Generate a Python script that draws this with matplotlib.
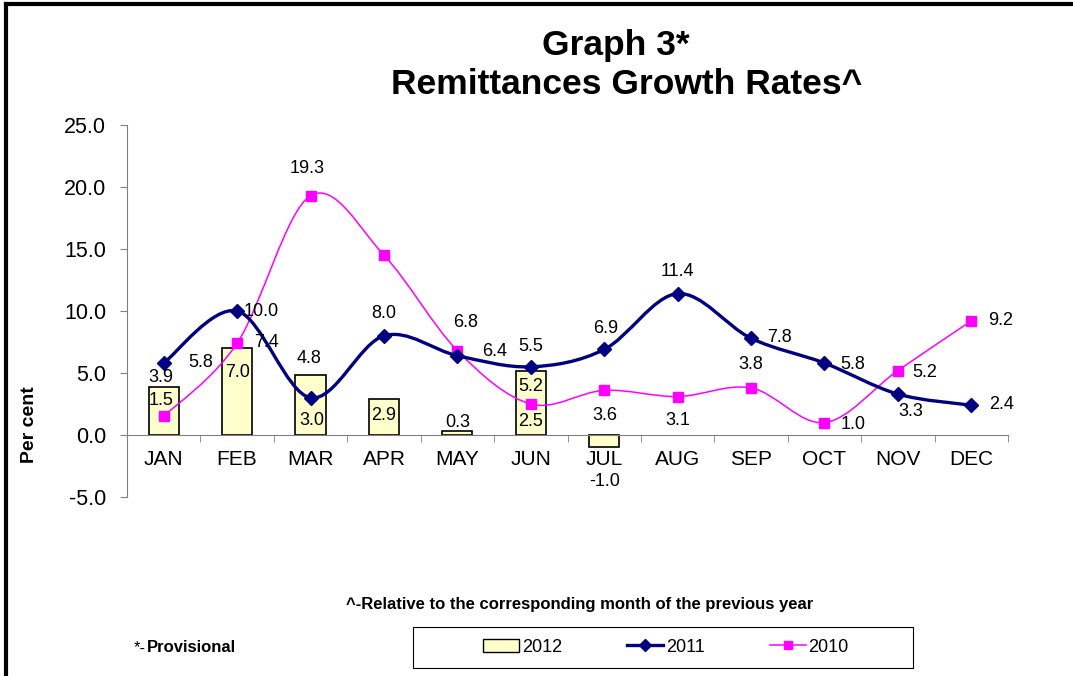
import numpy as np
import matplotlib
matplotlib.use('Agg')
import matplotlib.pyplot as plt
from matplotlib.path import Path
from matplotlib.patches import PathPatch, Rectangle
from matplotlib.lines import Line2D

plt.rcParams['font.family'] = ['Liberation Sans', 'DejaVu Sans']

months = ['JAN', 'FEB', 'MAR', 'APR', 'MAY', 'JUN', 'JUL', 'AUG', 'SEP', 'OCT', 'NOV', 'DEC']
v2012 = [3.9, 7.0, 4.8, 2.9, 0.3, 5.2, -1.0]
v2011 = [5.8, 10.0, 3.0, 8.0, 6.4, 5.5, 6.9, 11.4, 7.8, 5.8, 3.3, 2.4]
v2010 = [1.5, 7.4, 19.3, 14.5, 6.8, 2.5, 3.6, 3.1, 3.8, 1.0, 5.2, 9.2]
# which 2010 points carry a label (APR has none in the original)
show2010 = [True, True, True, False, True, True, True, True, True, True, True, True]

# label offsets in pixels (dx, dy) relative to the point
off2012 = [(-3, 9), (0, -24), (-1, 17), (0, -16), (0, 9), (0, -16), (0, -34)]
off2011 = [(37, 1), (24, 0), (1, -23), (0, 22), (37, 4), (0, 20), (1, 21), (0, 22), (28, 1), (28, -1), (13, -17), (30, 1)]
off2010 = [(-3, 16), (29, 1), (-3, 27), (0, 0), (8, 28), (0, -17), (1, -25), (0, -24), (0, 23), (29, -2), (27, -2), (29, 0)]

NAVY = '#000080'
MAG = '#FF00FF'


def smooth_path(x, y):
    # Excel-like smoothed line: cubic Bezier through the points
    pts = np.column_stack([x, y]).astype(float)
    n = len(pts)
    verts = [pts[0]]
    codes = [Path.MOVETO]
    for i in range(n - 1):
        p0 = pts[i - 1] if i > 0 else pts[i]
        p1 = pts[i]
        p2 = pts[i + 1]
        p3 = pts[i + 2] if i + 2 < n else pts[i + 1]
        c1 = p1 + (p2 - p0) / 6.0
        c2 = p2 - (p3 - p1) / 6.0
        verts += [c1, c2, p2]
        codes += [Path.CURVE4] * 3
    return Path(verts, codes)


fig = plt.figure(figsize=(10.73, 6.76), dpi=100)
ax = fig.add_axes([127 / 1073, 1 - 497 / 676, 881 / 1073, 372 / 676])

x = np.arange(len(months))

ax.bar(x[:len(v2012)], v2012, width=0.41, color='#FFFFCC', edgecolor='black', linewidth=1.2, zorder=2, label='2012')

ax.add_patch(PathPatch(smooth_path(x, v2011), facecolor='none', edgecolor=NAVY, lw=2.4, zorder=4))
ax.plot(x, v2011, ls='none', marker='D', ms=7, color=NAVY, zorder=5)
ax.add_patch(PathPatch(smooth_path(x, v2010), facecolor='none', edgecolor=MAG, lw=1.1, zorder=3))
ax.plot(x, v2010, ls='none', marker='s', ms=7, color=MAG, zorder=3.5)

fs = 13
for i, v in enumerate(v2012):
    ax.annotate(f'{v:.1f}', (x[i], v), xytext=off2012[i], textcoords='offset pixels',
                ha='center', va='center', fontsize=fs, zorder=6)
for i, v in enumerate(v2011):
    ax.annotate(f'{v:.1f}', (x[i], v), xytext=off2011[i], textcoords='offset pixels',
                ha='center', va='center', fontsize=fs, zorder=6)
for i, v in enumerate(v2010):
    if show2010[i]:
        ax.annotate(f'{v:.1f}', (x[i], v), xytext=off2010[i], textcoords='offset pixels',
                    ha='center', va='center', fontsize=fs, zorder=6)

ax.set_xlim(-0.5, len(months) - 0.5)
ax.set_ylim(-5, 25)
ax.set_yticks(np.arange(-5, 26, 5))
ax.set_yticklabels([f'{t:.1f}' for t in np.arange(-5, 26, 5)])

ax.set_xticks(x)
ax.set_xticklabels(months)
ax.set_xticks(np.arange(-0.5, len(months), 1), minor=True)
ax.tick_params(axis='x', which='major', length=0, pad=11, labelsize=15)
ax.tick_params(axis='x', which='minor', length=5, color='#808080', direction='out')
ax.tick_params(axis='y', length=5, color='#808080', pad=10, labelsize=15.5)

for s in ['top', 'right']:
    ax.spines[s].set_visible(False)
ax.spines['bottom'].set_position(('data', 0))
ax.spines['bottom'].set_color('#808080')
ax.spines['left'].set_color('#808080')

fig.text(30 / 1073, 1 - 425 / 676, 'Per cent', rotation=90, ha='center', va='center',
         fontsize=14, fontweight='bold')

fig.text(616 / 1073, 1 - 45 / 676, 'Graph 3*', ha='center', va='center', fontsize=25.5, fontweight='bold')
fig.text(627 / 1073, 1 - 84 / 676, 'Remittances Growth Rates^', ha='center', va='center', fontsize=25.5, fontweight='bold')
fig.text(580 / 1073, 1 - 604 / 676, '^-Relative to the corresponding month of the previous year',
         ha='center', va='center', fontsize=12, fontweight='bold')
fig.text(134 / 1073, 1 - 648 / 676, '*-', ha='left', va='center', fontsize=12)
fig.text(147 / 1073, 1 - 648 / 676, 'Provisional', ha='left', va='center', fontsize=12, fontweight='bold')

handles = [
    plt.Rectangle((0, 0), 1, 1, facecolor='#FFFFCC', edgecolor='black', lw=1),
    Line2D([], [], color=NAVY, lw=2.4, marker='D', ms=6),
    Line2D([], [], color=MAG, lw=1.1, marker='s', ms=6),
]
fig.legend(handles, ['2012', '2011', '2010'], loc='center', ncol=3,
           bbox_to_anchor=(666 / 1073, 1 - 647 / 676), frameon=False,
           fontsize=13, handlelength=2.0, handletextpad=0.15, columnspacing=3.6,
           borderpad=0, borderaxespad=0)
# legend box as drawn in the original
fig.add_artist(Rectangle((413 / 1073, 1 - 668 / 676), 500 / 1073, 41 / 676, transform=fig.transFigure,
                         facecolor='none', edgecolor='black', lw=0.8))

# frame edge of the original screenshot (top and left)
fig.add_artist(Line2D([6 / 1073, 6 / 1073], [0, 1 - 4 / 676], transform=fig.transFigure, color='black', lw=3))
fig.add_artist(Line2D([6 / 1073, 1], [1 - 4 / 676, 1 - 4 / 676], transform=fig.transFigure, color='black', lw=3))

fig.savefig('out.png', dpi=100)
